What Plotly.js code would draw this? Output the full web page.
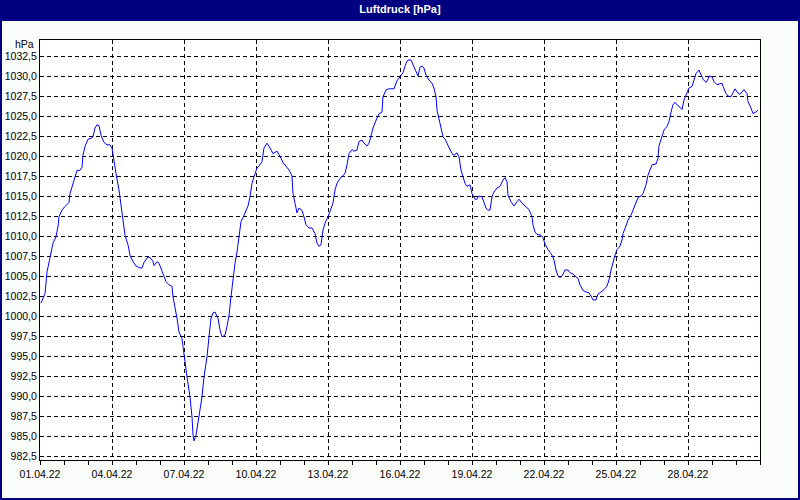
<!DOCTYPE html>
<html>
<head>
<meta charset="utf-8">
<script src="https://cdn.plot.ly/plotly-3.0.1.min.js"></script>
<style>
  html, body { margin: 0; padding: 0; background: #fafcfa; }
  #chart { width: 800px; height: 500px; }
</style>
</head>
<body>
<div id="chart"></div>
<script>
// Title and labels
const chartTitle = "Luftdruck [hPa]";
const unitLabel = "hPa";
const startDate = "2022-04-01";
const endDate = "2022-05-01";

// X tick dates (every 3 days)
const xTickDates = ["2022-04-01","2022-04-04","2022-04-07","2022-04-10","2022-04-13","2022-04-16","2022-04-19","2022-04-22","2022-04-25","2022-04-28"];
const xTickLabels = ["01.04.22","04.04.22","07.04.22","10.04.22","13.04.22","16.04.22","19.04.22","22.04.22","25.04.22","28.04.22"];

// Hours since 01.04.22 00:00
const hours = [
  1,3,5,7,9,11,13,16,18,19,22,25,29,30,33,35,37,40,42,43,45,48,51,53,55,57,59,61,64,67,
  70,72,74,76,79,81,83,85,88,90,93,96,100,102,104,106,108,111,113,114,117,119,121,123,126,129,132,133,135,137,
  139,142,143,145,147,150,152,153,154,156,158,160,162,164,167,169,171,173,175,178,180,182,185,187,189,191,193,195,197,199,
  201,203,206,208,210,212,214,217,219,222,224,227,230,233,237,239,243,246,249,252,253,255,257,259,262,264,266,269,272,275,
  277,279,281,283,285,288,290,293,295,297,300,303,305,307,309,312,314,317,319,322,324,327,329,331,333,337,339,342,343,346,
  349,354,357,360,363,366,368,371,373,376,378,380,382,384,386,389,392,394,396,397,399,401,403,405,407,410,412,414,417,419,
  421,423,425,427,430,432,435,437,439,442,444,446,448,450,452,454,457,460,463,465,467,468,471,474,477,479,482,484,486,489,
  492,493,495,497,501,503,505,508,512,514,516,518,520,522,525,528,530,533,535,538,540,543,546,549,551,553,556,558,561,564,
  567,569,571,573,575,577,580,582,583,586,588,591,593,596,598,601,603,606,608,610,612,616,618,619,622,624,627,629,631,633,
  635,637,640,642,644,647,649,652,654,656,659,661,663,666,668,669,672,674,677,679,682,683,686,688,691,693,695,697,700,702,
  704,707,708,711,713,716,718
];

// Air pressure [hPa]
const pressure = [
  1001.6,1002.2,1002.8,1005.5,1006.8,1007.8,1009.1,1009.9,1011.2,1012.4,1013.25,1013.7,1014.2,1015.3,1016.6,1017.6,1018.2,1018.2,1018.6,1020.1,1021.2,1022.1,1022.2,1022.4,1023.5,1023.9,1023.8,1022.6,1021.7,1021.4,
  1021.4,1021.0,1019.3,1017.8,1015.75,1013.7,1011.6,1010.1,1008.9,1007.6,1006.8,1006.25,1006.0,1006.0,1006.7,1007.1,1007.4,1007.2,1006.8,1006.3,1006.8,1006.6,1006.0,1005.3,1004.3,1003.9,1003.7,1002.4,1001.2,999.7,
  998.0,997.2,996.2,994.1,992.4,989.9,987.4,985.1,984.4,985.1,986.6,988.25,989.9,992.4,994.9,997.4,999.7,1000.4,1000.5,999.7,998.25,997.4,997.6,998.7,1000.1,1002.4,1004.9,1006.6,1008.0,1010.3,
  1011.8,1012.3,1013.25,1013.75,1014.9,1016.6,1017.4,1018.5,1018.75,1019.3,1021.0,1021.6,1021.0,1020.3,1020.6,1020.2,1019.2,1018.75,1018.25,1017.5,1015.3,1014.1,1012.9,1013.5,1013.2,1012.4,1011.4,1011.0,1011.0,1010.3,
  1009.1,1008.7,1008.9,1010.75,1011.6,1012.4,1013.0,1014.1,1015.75,1016.6,1017.2,1017.6,1017.8,1018.9,1020.3,1020.8,1020.6,1020.75,1021.8,1022.0,1021.6,1021.25,1021.6,1022.5,1023.5,1024.75,1025.3,1025.5,1027.4,1028.25,
  1028.4,1028.4,1029.4,1029.9,1030.4,1031.6,1032.0,1032.0,1031.4,1030.5,1030.0,1031.1,1031.25,1031.0,1030.1,1029.5,1029.1,1028.5,1027.4,1025.75,1024.5,1023.25,1022.4,1022.1,1021.6,1020.75,1020.3,1020.1,1020.4,1019.9,
  1018.25,1017.4,1016.6,1016.2,1016.4,1015.3,1014.6,1014.6,1015.0,1014.9,1014.3,1013.5,1013.2,1013.25,1014.9,1015.5,1016.0,1016.2,1017.0,1017.3,1016.8,1015.1,1014.3,1013.75,1014.3,1014.6,1014.1,1013.9,1013.7,1013.3,
  1012.4,1011.4,1010.5,1010.2,1010.1,1009.8,1009.0,1008.3,1007.6,1007.0,1005.75,1005.0,1004.8,1005.0,1005.75,1005.75,1005.4,1005.25,1005.0,1004.7,1003.9,1003.2,1003.0,1002.9,1002.5,1002.0,1002.0,1002.75,1003.0,1003.3,
  1003.75,1004.5,1005.75,1006.8,1007.6,1008.3,1008.75,1009.5,1010.3,1011.25,1012.0,1012.6,1013.3,1014.3,1014.8,1015.0,1015.3,1016.4,1017.6,1018.25,1018.9,1019.0,1019.7,1021.25,1022.4,1023.25,1023.7,1024.3,1025.5,1026.4,
  1026.7,1026.4,1026.1,1025.8,1027.0,1027.8,1028.5,1028.7,1029.5,1030.3,1030.75,1030.25,1029.6,1029.2,1029.6,1030.0,1029.9,1029.3,1028.9,1029.0,1029.1,1028.7,1027.8,1027.5,1027.4,1027.9,1028.4,1028.0,1027.7,1028.0,
  1028.3,1027.8,1026.8,1026.0,1025.3,1025.5,1025.75
];

// Y tick values
const yTicks = [982.5,985,987.5,990,992.5,995,997.5,1000,1002.5,1005,1007.5,1010,1012.5,1015,1017.5,1020,1022.5,1025,1027.5,1030,1032.5];

function pad(n) { return (n < 10 ? "0" : "") + n; }
function hourToDate(h) {
  const day = 1 + Math.floor(h / 24);
  const hr = h % 24;
  return "2022-04-" + pad(day) + " " + pad(hr) + ":00";
}
const xDates = hours.map(hourToDate);

const font = { family: "Liberation Sans, Arial, sans-serif", size: 10.5, color: "#000000" };

const trace = {
  x: xDates,
  y: pressure,
  type: "scatter",
  mode: "lines",
  line: { color: "#0000ff", width: 1, shape: "linear" },
  hoverinfo: "skip"
};

// paper coordinates for pixel positions (plot area 40..760 x, 40..460 y)
const W = 800, H = 500, mL = 40, mR = 40, mT = 40, mB = 40;
const pw = W - mL - mR, ph = H - mT - mB;
const px = v => (v - mL) / pw;
const py = v => (H - mB - v) / ph;

const layout = {
  width: W, height: H,
  margin: { l: mL, r: mR, t: mT, b: mB, pad: 0 },
  paper_bgcolor: "#fafcfa",
  plot_bgcolor: "#ffffff",
  font: font,
  separators: ",.",
  showlegend: false,
  title: {
    text: "<b>" + chartTitle + "</b>",
    font: { family: "Liberation Sans, Arial, sans-serif", size: 11, color: "#ffffff" },
    x: 0.5, xanchor: "center", xref: "container",
    y: 1 - 9.5 / H, yanchor: "middle", yref: "container"
  },
  xaxis: {
    type: "date",
    range: [startDate, endDate],
    tickmode: "array",
    tickvals: xTickDates,
    ticktext: xTickLabels,
    ticks: "outside", ticklen: 4, tickwidth: 1, tickcolor: "#000000",
    showgrid: true, gridcolor: "#000000", gridwidth: 1, griddash: "4px,3px",
    minor: { tickmode: "linear", dtick: 86400000, tick0: startDate, ticks: "outside", ticklen: 4, tickcolor: "#000000", showgrid: false },
    showline: true, linecolor: "#000000", linewidth: 1, mirror: true,
    zeroline: false,
    tickfont: font,
    fixedrange: true
  },
  yaxis: {
    range: [982, 1034.5],
    tickmode: "array",
    tickvals: yTicks,
    tickformat: ".1f",
    ticks: "",
    showgrid: true, gridcolor: "#000000", gridwidth: 1, griddash: "4px,3px",
    showline: true, linecolor: "#000000", linewidth: 1, mirror: true,
    zeroline: false,
    tickfont: font,
    fixedrange: true
  },
  shapes: [
    { type: "rect", xref: "paper", yref: "paper", layer: "above",
      x0: px(0), x1: px(800), y0: py(20), y1: py(0),
      fillcolor: "#000080", line: { width: 0 } },
    { type: "rect", xref: "paper", yref: "paper", layer: "above",
      x0: px(1), x1: px(799), y0: py(499), y1: py(20),
      fillcolor: "rgba(0,0,0,0)", line: { color: "#000080", width: 2 } }
  ],
  annotations: [
    { text: unitLabel, xref: "paper", yref: "paper",
      x: 0, xanchor: "right", xshift: -4,
      y: py(44), yanchor: "middle",
      showarrow: false, font: font }
  ]
};

Plotly.newPlot("chart", [trace], layout, { staticPlot: true, displayModeBar: false });
</script>
</body>
</html>
